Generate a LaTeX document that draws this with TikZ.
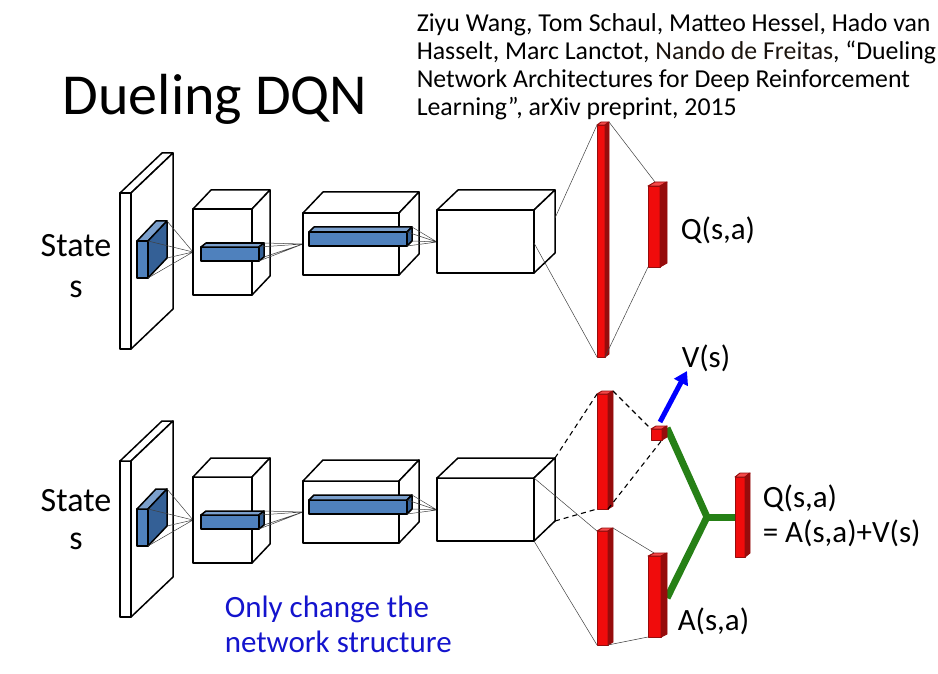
\documentclass[tikz,border=0pt]{standalone}
\usepackage{fontspec}
\setmainfont{Carlito}
\usetikzlibrary{arrows.meta}

\definecolor{convblue}{RGB}{79,129,189}
\definecolor{convdark}{RGB}{52,96,150}
\definecolor{fcred}{RGB}{240,12,12}
\definecolor{fcdark}{RGB}{150,12,12}
\definecolor{duelgreen}{RGB}{38,128,22}
\definecolor{noteblue}{RGB}{20,20,205}
\definecolor{namebrown}{RGB}{28,20,14}

\tikzset{
  fanline/.style={line width=0.5pt, black!75},
  dashline/.style={line width=1.1pt, dash pattern=on 5pt off 4pt},
  redbar/.style={color=fcdark, line width=0.9pt},
  lbl/.style={anchor=base west, inner sep=0pt, font=\fontsize{31}{35}\selectfont},
}

% cuboid: name, front top-left (x,y), front bottom-right (x,y), depth (dx,dy), front fill, side fill
\newcommand{\cuboid}[9]{%
  \coordinate (#1-tl) at (#2,#3);
  \coordinate (#1-tr) at (#4,#3);
  \coordinate (#1-br) at (#4,#5);
  \coordinate (#1-bl) at (#2,#5);
  \coordinate (#1-btl) at (#2+#6,#3-#7);
  \coordinate (#1-btr) at (#4+#6,#3-#7);
  \coordinate (#1-bbr) at (#4+#6,#5-#7);
  \draw[fill=#8] (#1-tl) rectangle (#1-br);
  \draw[fill=#8!75!white] (#1-tl) -- (#1-btl) -- (#1-btr) -- (#1-tr) -- cycle;
  \draw[fill=#9] (#1-tr) -- (#1-btr) -- (#1-bbr) -- (#1-br) -- cycle;
}

% the convolutional part, same in both rows
\newcommand{\convpart}[1]{%
  %Shape: input frame with filter
  \cuboid{#1-in}{120}{193}{131}{349}{42}{40}{white}{white}
  \cuboid{#1-f1}{137}{241}{148}{278}{19}{20}{convblue}{convdark}
  \coordinate (#1-p1) at (193,252);
  \draw[fanline] (#1-f1-btr) -- (#1-p1) (#1-f1-tr) -- (#1-p1) (#1-f1-br) -- (#1-p1) (#1-f1-bbr) -- (#1-p1);
  %Shape: first conv layer
  \cuboid{#1-c1}{193}{209}{252}{295}{18}{19}{white}{white}
  \cuboid{#1-f2}{201}{247}{259}{261}{5}{4}{convblue}{convdark}
  \coordinate (#1-p2) at (303,244);
  \draw[fanline] (#1-f2-btr) -- (#1-p2) (#1-f2-tr) -- (#1-p2) (#1-f2-br) -- (#1-p2) (#1-f2-bbr) -- (#1-p2);
  %Shape: second conv layer
  \cuboid{#1-c2}{303}{213}{399}{275}{20}{21}{white}{white}
  \cuboid{#1-f3}{309}{232}{407}{246}{5}{5}{convblue}{convdark}
  \coordinate (#1-p3) at (437,242);
  \draw[fanline] (#1-f3-btr) -- (#1-p3) (#1-f3-tr) -- (#1-p3) (#1-f3-br) -- (#1-p3) (#1-f3-bbr) -- (#1-p3);
  %Shape: third conv layer
  \cuboid{#1-c3}{437}{210}{534}{273}{21}{20}{white}{white}
}

\begin{document}
\begin{tikzpicture}[x=1pt,y=-1pt,line width=1.5pt,line join=round]
\useasboundingbox (0,0) rectangle (938,674);

% Text Node
\node[anchor=base west, inner sep=0pt, font=\fontsize{58}{60}\selectfont] (title) at (62,115) {Dueling DQN};
% Text Node (base = last line)
\node[anchor=base west, inner sep=0pt, align=left, font=\fontsize{25.8}{28}\selectfont] (cite) at (416,116)
  {Ziyu Wang, Tom Schaul, Matteo Hessel, Hado van\\
   Hasselt, Marc Lanctot, \textcolor{namebrown}{Nando de Freitas}, ``Dueling\\
   Network Architectures for Deep Reinforcement\\
   Learning'', arXiv preprint, 2015};

%% top row: DQN
\convpart{t}
\begin{scope}[redbar]
  \cuboid{fc1}{597}{125}{605}{357}{4}{3}{fcred}{fcdark}
  \cuboid{q1}{648}{186}{660}{267}{7}{4}{fcred}{fcdark}
\end{scope}
\coordinate (t-o1) at (555,218);
\coordinate (t-o2) at (534,243);
\draw[fanline] (t-o1) -- (fc1-tl);
\draw[fanline] (t-o2) -- (fc1-bl);
\draw[fanline] (fc1-btr) -- (q1-btl);
\draw[fanline] (fc1-br) -- (q1-bl);

% Text Node
\node[lbl, align=center, anchor=base, font=\fontsize{34}{40}\selectfont] (state1) at (76,297) {State\\s};
% Text Node
\node[lbl] (qlab1) at (680,240) {Q(s,a)};

%% bottom row: dueling DQN
\begin{scope}[shift={(0,268)}]
  \convpart{b}
\end{scope}

%Shape: green aggregation
\coordinate (v-g) at (667,428);
\coordinate (a-g) at (667,598);
\coordinate (join) at (707,517);
\coordinate (q-g) at (736,517);
\draw[duelgreen, line width=7pt, line join=miter] (v-g) -- (join) -- (a-g);
\draw[duelgreen, line width=7pt] (join) -- (q-g);

\begin{scope}[redbar]
  \cuboid{vfc}{597}{394}{608}{509}{5}{3}{fcred}{fcdark}
  \cuboid{vout}{651}{429}{662}{440}{5}{3}{fcred}{fcdark}
  \cuboid{afc}{597}{531}{608}{645}{5}{3}{fcred}{fcdark}
  \cuboid{aout}{648}{556}{661}{637}{6}{3}{fcred}{fcdark}
  \cuboid{qout}{735}{477}{745}{557}{5}{4}{fcred}{fcdark}
\end{scope}

\draw[dashline] (b-c3-btr) -- (vfc-tl);
\draw[dashline] (b-c3-bbr) -- (vfc-bl);
\draw[dashline] (vfc-btr) -- (vout-tl);
\draw[dashline] (vfc-br) -- (vout-br);
\draw[fanline] (b-c3-tr) -- (afc-tl);
\draw[fanline] (b-c3-br) -- (afc-bl);
\draw[fanline] (afc-btr) -- (aout-btl);
\draw[fanline] (afc-br) -- (aout-bl);

% Text Node
\node[lbl, align=center, anchor=base, font=\fontsize{34}{38}\selectfont] (state2) at (76,549) {State\\s};
% Text Node
\node[lbl] (vlab) at (681,367) {V(s)};
% Text Node
\node[lbl] (alab) at (677,630) {A(s,a)};
% Text Node
\node[lbl, align=left] (qlab2) at (762,542) {Q(s,a)\\= A(s,a)+V(s)};
% Text Node
\node[lbl, align=left, text=noteblue] (note) at (224,652) {Only change the\\network structure};

%Shape: arrow to V(s)
\coordinate (v-arr) at (660,422);
\coordinate (v-tip) at (687,371);
\draw[blue, line width=5pt, -{Triangle[length=13pt,width=15pt]}] (v-arr) -- (v-tip);

\end{tikzpicture}
\end{document}
